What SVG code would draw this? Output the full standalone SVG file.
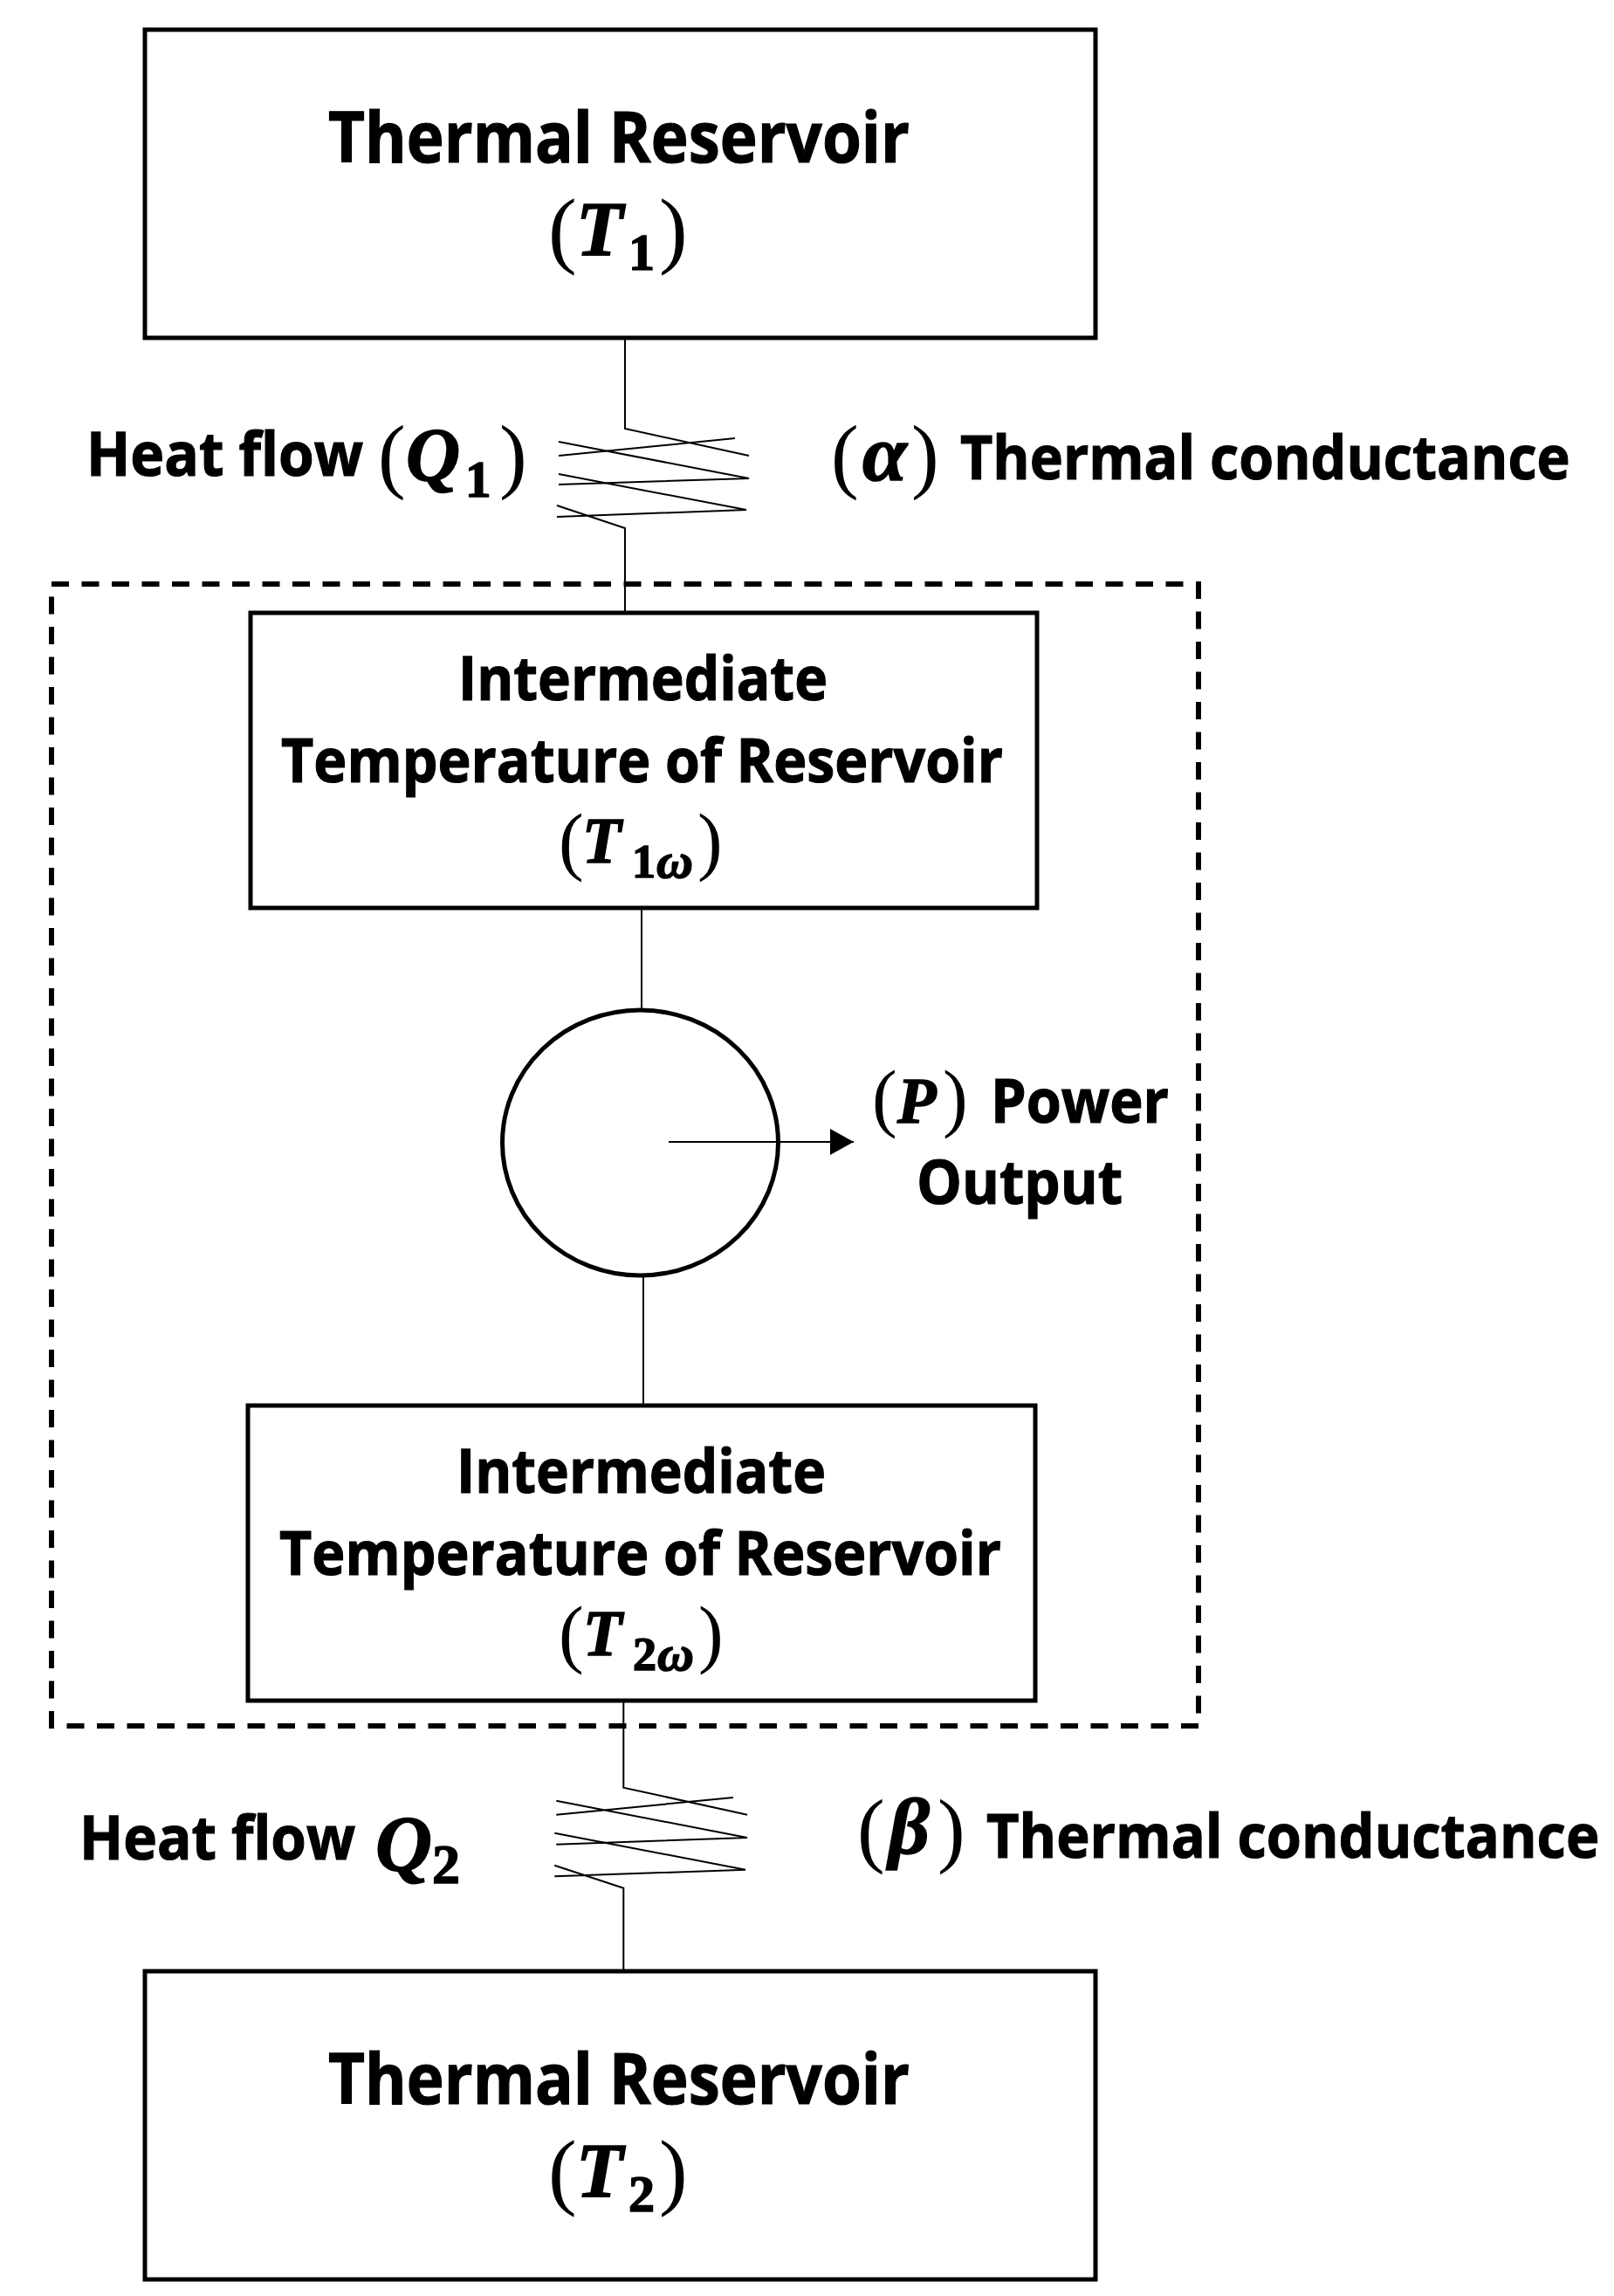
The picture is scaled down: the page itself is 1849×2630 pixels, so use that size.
<svg xmlns="http://www.w3.org/2000/svg" width="1849" height="2630" viewBox="0 0 1849 2630">
<defs>
<style>
.box{fill:#fff;stroke:#000;stroke-width:5}
.wire{fill:none;stroke:#000;stroke-width:2;stroke-linejoin:miter}
.dash{fill:none;stroke:#000;stroke-width:6;stroke-dasharray:20 14.5}
.t{font-family:"Open Sans","Liberation Sans",sans-serif;font-weight:700;font-size:70px;fill:#000;stroke:#000;stroke-width:1.2}
.big{font-size:80px}
.m{font-family:"Liberation Serif",serif;fill:#000}
.p{font-weight:400;stroke:none}
.v{font-weight:700;font-style:italic;stroke:#000;stroke-width:1.6}
.s{font-weight:700;stroke:#000;stroke-width:1.6}
</style>
<marker id="arrow" markerUnits="userSpaceOnUse" markerWidth="28" markerHeight="30" refX="27" refY="15" orient="auto"><path d="M0 0L27 15L0 30Z" fill="#000"/></marker>
</defs>
<rect width="1849" height="2630" fill="#fff"/>
<g id="boundary"><rect class="dash" x="59" y="669" width="1314" height="1308"/></g>
<g id="connectors">
<path class="wire" d="M716 388V491L858 522M842 502L640 522M640 506L858 548L640 555M640 543L855 584L638 592M638 579L716 605V701"/>
<path class="wire" d="M735 1040V1157"/>
<path class="wire" d="M737 1461V1610"/>
<path class="wire" d="M714.300 1950V2047.700L856 2078.700M840 2059L637.300 2078.700M637.300 2062.700L856 2105L637.300 2112.700M635.300 2099.700L854 2141.700L635.300 2149.300M635.300 2136.700L714.300 2162.700V2257"/>
</g>
<g id="reservoir-top">
<rect class="box" x="166" y="34" width="1089" height="353"/>
<text class="t big" x="376" y="186" textLength="666" lengthAdjust="spacingAndGlyphs">Thermal Reservoir</text>
<text class="m" x="628" y="295"><tspan class="p" font-size="98" x="628" y="295">(</tspan><tspan class="v" font-size="88" x="660" y="292">T</tspan><tspan class="s" font-size="60" x="720" y="309">1</tspan><tspan class="p" font-size="98" x="755" y="295">)</tspan></text>
</g>
<g id="intermediate-1">
<rect class="box" x="287" y="702" width="901" height="338"/>
<text class="t" x="525" y="802" textLength="423" lengthAdjust="spacingAndGlyphs">Intermediate</text>
<text class="t" x="322" y="896" textLength="827" lengthAdjust="spacingAndGlyphs">Temperature of Reservoir</text>
<text class="m" x="640" y="992"><tspan class="p" font-size="86" x="640" y="992">(</tspan><tspan class="v" font-size="73" x="667" y="988">T</tspan><tspan class="s" font-size="54" x="724" y="1005">1</tspan><tspan class="v" font-size="58" x="752" y="1005">ω</tspan><tspan class="p" font-size="86" x="799" y="992">)</tspan></text>
</g>
<g id="engine"><ellipse cx="733.500" cy="1309" rx="158" ry="152" fill="#fff" stroke="#000" stroke-width="5"/></g>
<g id="power-arrow"><path class="wire" d="M766 1308H978" marker-end="url(#arrow)"/></g>
<g id="power-label">
<text class="m" x="999" y="1286"><tspan class="p" font-size="86" x="999" y="1286">(</tspan><tspan class="v" font-size="73" x="1028" y="1286">P</tspan><tspan class="p" font-size="86" x="1080" y="1286">)</tspan></text>
<text class="t" x="1135" y="1286" textLength="204" lengthAdjust="spacingAndGlyphs">Power</text>
<text class="t" x="1050" y="1379" textLength="236" lengthAdjust="spacingAndGlyphs">Output</text>
</g>
<g id="intermediate-2">
<rect class="box" x="284" y="1610" width="902" height="338"/>
<text class="t" x="523" y="1710" textLength="423" lengthAdjust="spacingAndGlyphs">Intermediate</text>
<text class="t" x="320" y="1804" textLength="827" lengthAdjust="spacingAndGlyphs">Temperature of Reservoir</text>
<text class="m" x="640" y="1900"><tspan class="p" font-size="86" x="640" y="1900">(</tspan><tspan class="v" font-size="73" x="668" y="1896">T</tspan><tspan class="s" font-size="54" x="725" y="1913">2</tspan><tspan class="v" font-size="58" x="753" y="1913">ω</tspan><tspan class="p" font-size="86" x="800" y="1900">)</tspan></text>
</g>
<g id="reservoir-bottom">
<rect class="box" x="166" y="2258" width="1089" height="353"/>
<text class="t big" x="376" y="2410" textLength="666" lengthAdjust="spacingAndGlyphs">Thermal Reservoir</text>
<text class="m" x="628" y="2519"><tspan class="p" font-size="98" x="628" y="2519">(</tspan><tspan class="v" font-size="88" x="660" y="2516">T</tspan><tspan class="s" font-size="60" x="720" y="2533">2</tspan><tspan class="p" font-size="98" x="755" y="2519">)</tspan></text>
</g>
<g id="label-q1">
<text class="t" x="99" y="545" textLength="317" lengthAdjust="spacingAndGlyphs">Heat flow</text>
<text class="m" x="433" y="553"><tspan class="p" font-size="95" x="433" y="553">(</tspan><tspan class="v" font-size="86" x="465" y="550">Q</tspan><tspan class="s" font-size="59" x="533" y="569">1</tspan><tspan class="p" font-size="95" x="572" y="553">)</tspan></text>
</g>
<g id="label-alpha">
<text class="m" x="952" y="553"><tspan class="p" font-size="95" x="952" y="553">(</tspan><tspan class="v" font-size="92" x="988" y="550">α</tspan><tspan class="p" font-size="95" x="1044" y="553">)</tspan></text>
<text class="t" transform="translate(1100 549) scale(.88 1)" x="0" y="0" textLength="794" lengthAdjust="spacingAndGlyphs">Thermal conductance</text>
</g>
<g id="label-q2">
<text class="t" x="91" y="2130" textLength="316" lengthAdjust="spacingAndGlyphs">Heat flow</text>
<text class="m" x="430" y="2143"><tspan class="v" font-size="90" x="430" y="2143">Q</tspan><tspan class="s" font-size="64" x="495" y="2157">2</tspan></text>
</g>
<g id="label-beta">
<text class="m" x="982" y="2127"><tspan class="p" font-size="95" x="982" y="2127">(</tspan><tspan class="v" font-size="92" x="1018" y="2123">β</tspan><tspan class="p" font-size="95" x="1074" y="2127">)</tspan></text>
<text class="t" transform="translate(1130 2128) scale(.88 1)" x="0" y="0" textLength="798" lengthAdjust="spacingAndGlyphs">Thermal conductance</text>
</g>
</svg>
